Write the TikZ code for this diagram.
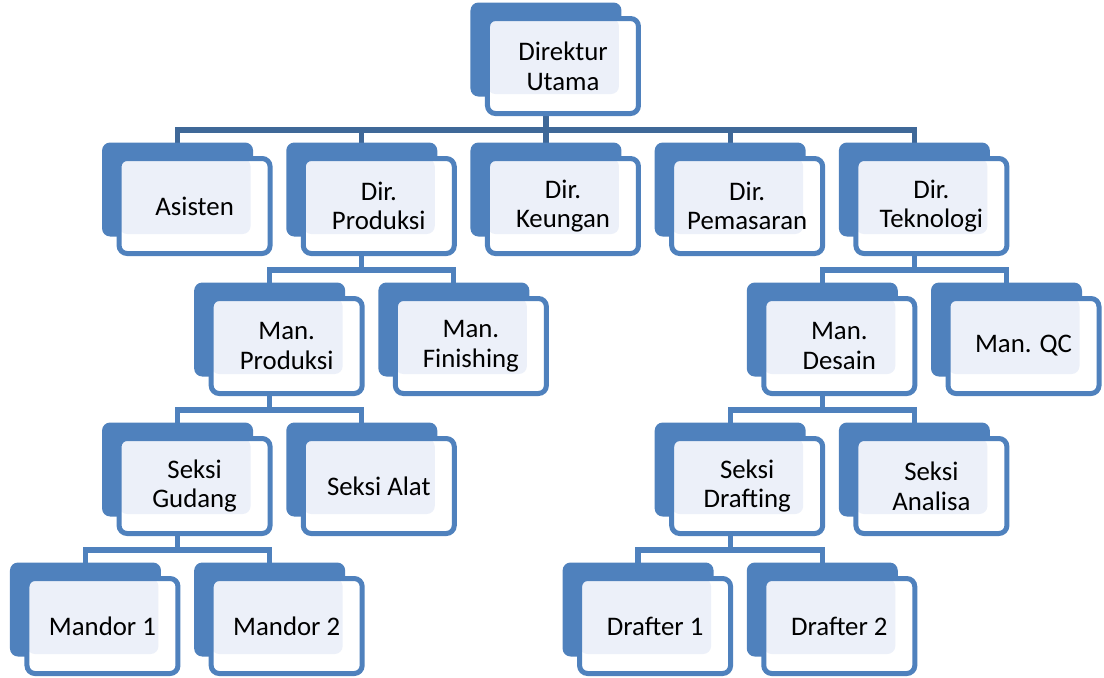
\documentclass[tikz,border=0pt]{standalone}
\usepackage{fontspec}
\setmainfont{Carlito}
\usepackage{tikz}
\usetikzlibrary{positioning, backgrounds}
\definecolor{unitblue}{HTML}{4F81BD}
\definecolor{topblue}{HTML}{3F6898}
\definecolor{unitlight}{RGB}{236,240,249}
\tikzstyle{unit} = [rectangle, draw=unitblue, line width=2.5pt, fill=white, rounded corners=4pt, minimum width=75.5pt, minimum height=47.5pt, inner sep=0pt, text centered, align=center, font=\fontsize{13.4}{14.8}\selectfont, path picture={\fill[unitlight] (path picture bounding box.north west) rectangle ([shift={(-9.75pt,9.75pt)}]path picture bounding box.south east);}]
\tikzstyle{back} = [fill=unitblue, rounded corners=4pt]
\tikzstyle{line} = [draw=unitblue, line width=2.6pt]
\tikzstyle{topline} = [draw=topblue, line width=2.6pt]

\begin{document}
\begin{tikzpicture}[on grid, node distance=70pt and 92.1pt]
    \useasboundingbox (-281.5pt,-305.5pt) rectangle (270.5pt,33pt);

    % top
    \node[unit](dirutama){Direktur\\Utama};

    % directors
    \node[unit, below=of dirutama](dirkeu){Dir.\\Keungan};
    \node[unit, left=of dirkeu](dirprod){Dir.\\Produksi};
    \node[unit, left=of dirprod](asisten){Asisten};
    \node[unit, right=of dirkeu](dirpem){Dir.\\Pemasaran};
    \node[unit, right=of dirpem](dirtek){Dir.\\Teknologi};

    % managers
    \node[unit, below left=70pt and 46.05pt of dirprod](manprod){Man.\\Produksi};
    \node[unit, below right=70pt and 46.05pt of dirprod](manfin){Man.\\Finishing};
    \node[unit, below left=70pt and 46.05pt of dirtek](mandes){Man.\\Desain};
    \node[unit, below right=70pt and 46.05pt of dirtek](manqc){Man. QC};

    % sections
    \node[unit, below left=70pt and 46.05pt of manprod](seksigud){Seksi\\Gudang};
    \node[unit, below right=70pt and 46.05pt of manprod](seksialat){Seksi Alat};
    \node[unit, below left=70pt and 46.05pt of mandes](seksidraft){Seksi\\Drafting};
    \node[unit, below right=70pt and 46.05pt of mandes](seksiana){Seksi\\Analisa};

    % staff
    \node[unit, below left=70pt and 46.05pt of seksigud](mandor1){Mandor 1};
    \node[unit, below right=70pt and 46.05pt of seksigud](mandor2){Mandor 2};
    \node[unit, below left=70pt and 46.05pt of seksidraft](drafter1){Drafter 1};
    \node[unit, below right=70pt and 46.05pt of seksidraft](drafter2){Drafter 2};

    \begin{pgfonlayer}{background}
    % connectors
    \foreach \child in {asisten, dirprod, dirkeu, dirpem, dirtek}
        \path[topline] ([xshift=-8.5pt]dirutama.south) -- ++(0,-7pt) -| ([xshift=-8.5pt]\child.north);
    \path[line] ([xshift=-8.5pt]dirprod.south) -- ++(0,-7pt) -| ([xshift=-8.5pt]manprod.north);
    \path[line] ([xshift=-8.5pt]dirprod.south) -- ++(0,-7pt) -| ([xshift=-8.5pt]manfin.north);
    \path[line] ([xshift=-8.5pt]dirtek.south) -- ++(0,-7pt) -| ([xshift=-8.5pt]mandes.north);
    \path[line] ([xshift=-8.5pt]dirtek.south) -- ++(0,-7pt) -| ([xshift=-8.5pt]manqc.north);
    \path[line] ([xshift=-8.5pt]manprod.south) -- ++(0,-7pt) -| ([xshift=-8.5pt]seksigud.north);
    \path[line] ([xshift=-8.5pt]manprod.south) -- ++(0,-7pt) -| ([xshift=-8.5pt]seksialat.north);
    \path[line] ([xshift=-8.5pt]mandes.south) -- ++(0,-7pt) -| ([xshift=-8.5pt]seksidraft.north);
    \path[line] ([xshift=-8.5pt]mandes.south) -- ++(0,-7pt) -| ([xshift=-8.5pt]seksiana.north);
    \path[line] ([xshift=-8.5pt]seksigud.south) -- ++(0,-7pt) -| ([xshift=-8.5pt]mandor1.north);
    \path[line] ([xshift=-8.5pt]seksigud.south) -- ++(0,-7pt) -| ([xshift=-8.5pt]mandor2.north);
    \path[line] ([xshift=-8.5pt]seksidraft.south) -- ++(0,-7pt) -| ([xshift=-8.5pt]drafter1.north);
    \path[line] ([xshift=-8.5pt]seksidraft.south) -- ++(0,-7pt) -| ([xshift=-8.5pt]drafter2.north);

    % back plates
    \foreach \n in {dirutama, asisten, dirprod, dirkeu, dirpem, dirtek, manprod, manfin, mandes, manqc, seksigud, seksialat, seksidraft, seksiana, mandor1, mandor2, drafter1, drafter2}
        \path[back] ([shift={(-7.25pt,6.75pt)}]\n.north west) rectangle ([shift={(-9.75pt,9.75pt)}]\n.south east);
    \end{pgfonlayer}
\end{tikzpicture}
\end{document}
